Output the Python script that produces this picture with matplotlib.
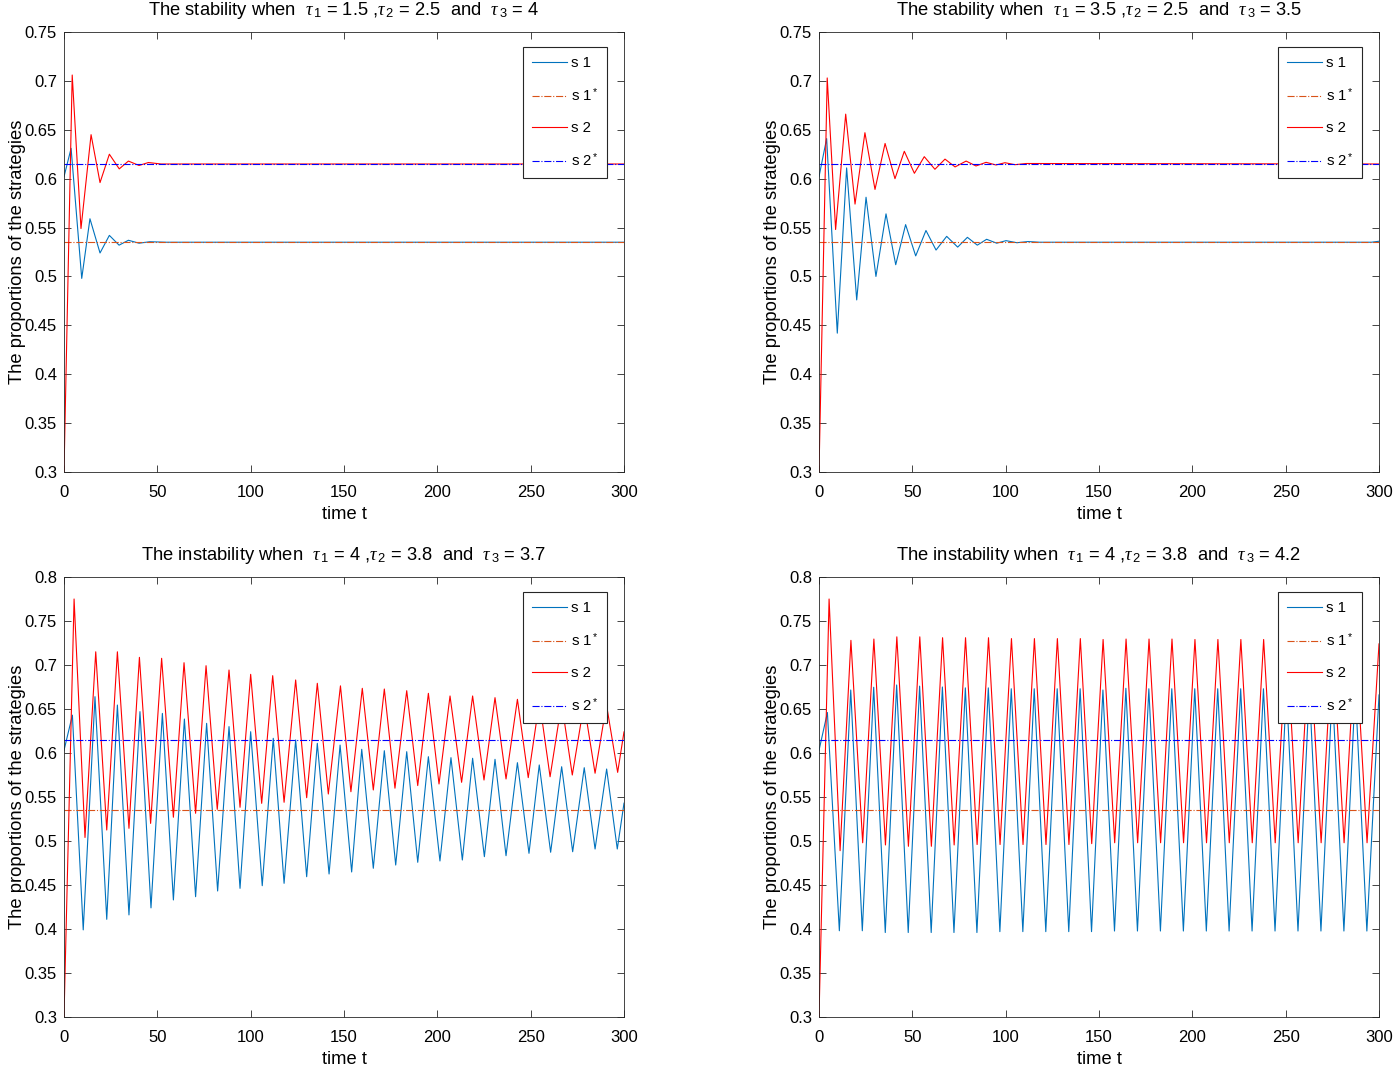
import matplotlib
matplotlib.use("Agg")
import matplotlib.pyplot as plt
from matplotlib.ticker import FormatStrFormatter

plt.rcParams['font.family'] = ['Liberation Sans', 'DejaVu Sans']
plt.rcParams['mathtext.fontset'] = 'custom'
plt.rcParams['mathtext.rm'] = 'Liberation Sans'
plt.rcParams['mathtext.it'] = 'Liberation Serif:italic'
plt.rcParams['mathtext.bf'] = 'Liberation Sans:bold'

# equilibrium values
s1_star = 0.535
s2_star = 0.615

# panel a: tau1=1.5, tau2=2.5, tau3=4
t_a_s1 = [0, 3.8, 9.5, 13.9, 19.3, 24.3, 29.5, 34.5, 40.2, 46, 55, 300]
y_a_s1 = [0.602, 0.631, 0.498, 0.559, 0.524, 0.542, 0.532, 0.537, 0.534, 0.5355, 0.535, 0.535]
t_a_s2 = [0, 4.4, 9.1, 14.5, 19.3, 24.3, 29.6, 34.5, 40.2, 45.2, 52, 300]
y_a_s2 = [0.30, 0.706, 0.549, 0.645, 0.596, 0.625, 0.610, 0.618, 0.6135, 0.6165, 0.615, 0.615]

# panel b: tau1=3.5, tau2=2.5, tau3=3.5
t_b_s1 = [0, 4.1, 9.8, 14.8, 20.2, 25.2, 30.5, 35.9, 41.1, 46.4, 51.8, 57.3, 62.7, 68.4,
          74.3, 79.5, 84.8, 89.8, 95.2, 100.2, 106, 112, 118, 296, 300]
y_b_s1 = [0.602, 0.641, 0.442, 0.611, 0.476, 0.581, 0.500, 0.564, 0.512, 0.553, 0.521, 0.547,
          0.527, 0.541, 0.530, 0.540, 0.532, 0.538, 0.534, 0.5366, 0.5345, 0.5357, 0.535, 0.535,
          0.536]
t_b_s2 = [0, 4.4, 8.9, 14.3, 19.3, 24.6, 30, 35.4, 40.7, 45.7, 51.1, 56.4, 62.1, 67.5,
          72.9, 78.8, 84.1, 89.5, 94.8, 99.6, 105, 111, 300]
y_b_s2 = [0.30, 0.703, 0.548, 0.666, 0.574, 0.647, 0.589, 0.636, 0.600, 0.628, 0.6055, 0.6225,
          0.6096, 0.620, 0.612, 0.618, 0.613, 0.6167, 0.614, 0.6163, 0.6143, 0.6155, 0.615]

# panel c: tau1=4, tau2=3.8, tau3=3.7
t_c_s1 = [0, 4.5, 10.3, 16.6, 22.9, 28.6, 34.8, 40.7, 46.6, 52.7, 58.6, 64.5, 70.5, 76.4,
          82.3, 88.4, 94.3, 100, 106.2, 112.1, 117.9, 124.1, 130, 135.7, 142, 147.9, 154.1,
          159.5, 165.7, 171.6, 177.7, 183.6, 189.5, 195.2, 201.4, 207.3, 213.4, 218.9, 225.2,
          230.9, 236.8, 242.9, 249.1, 254.6, 260.7, 266.6, 272.5, 278.7, 284.5, 290.7, 296.4, 300]
y_c_s1 = [0.603, 0.643, 0.399, 0.664, 0.411, 0.6545, 0.416, 0.647, 0.424, 0.645, 0.433, 0.6386,
          0.4367, 0.6337, 0.4432, 0.630, 0.4462, 0.6242, 0.4492, 0.6167, 0.4519, 0.6148, 0.4594,
          0.611, 0.4625, 0.609, 0.4648, 0.6042, 0.469, 0.6026, 0.4727, 0.6015, 0.4758, 0.5958,
          0.4773, 0.5947, 0.4784, 0.594, 0.4822, 0.5928, 0.4833, 0.589, 0.486, 0.5864, 0.4872,
          0.5844, 0.4878, 0.5833, 0.4909, 0.5818, 0.4909, 0.543]
t_c_s2 = [0, 5.4, 11.25, 17.0, 22.9, 28.6, 34.8, 40.4, 46.4, 52.3, 58.6, 64.3, 70.5, 76.1,
          82.1, 88.4, 94.3, 100, 105.9, 111.8, 117.9, 124.1, 130, 135.7, 141.6, 148.1, 153.7,
          159.8, 165.7, 171.6, 177.3, 183.6, 189.5, 195.2, 200.9, 206.8, 213, 218.9, 225,
          230.9, 236.8, 242.9, 248.7, 254.7, 260.4, 266.6, 272.3, 278.6, 284.5, 290.6, 296.6, 300]
y_c_s2 = [0.30, 0.775, 0.504, 0.715, 0.5125, 0.715, 0.5144, 0.7087, 0.520, 0.7076, 0.527, 0.7026,
          0.5315, 0.6992, 0.536, 0.6943, 0.5383, 0.6894, 0.5428, 0.6879, 0.544, 0.683, 0.5492,
          0.6792, 0.5534, 0.6763, 0.556, 0.6735, 0.558, 0.6727, 0.560, 0.6708, 0.563, 0.6678,
          0.5648, 0.6648, 0.5667, 0.6648, 0.5693, 0.6629, 0.5705, 0.661, 0.572, 0.659, 0.573,
          0.657, 0.575, 0.656, 0.577, 0.655, 0.578, 0.624]

# panel d: tau1=4, tau2=3.8, tau3=4.2
t_d_s1 = [0, 4.5, 10.9, 17.0, 23.2, 29.3, 35.5, 41.6, 47.8, 53.9, 60.1, 66.1, 72.3, 78.4,
          84.6, 90.7, 96.9, 103.0, 109.2, 115.3, 121.5, 127.6, 133.8, 139.9, 146.0, 152.1,
          158.3, 164.4, 170.6, 176.7, 182.9, 189.0, 195.2, 201.3, 207.5, 213.6, 219.7, 225.9,
          232.0, 238.1, 244.3, 250.4, 256.6, 262.7, 268.9, 275.0, 281.2, 287.3, 293.5, 300]
y_d_s1 = [0.603, 0.646, 0.398, 0.6716, 0.398, 0.6747, 0.396, 0.6773, 0.396, 0.676, 0.396, 0.675,
          0.396, 0.674, 0.396, 0.674, 0.397, 0.673, 0.397, 0.673, 0.397, 0.673, 0.397, 0.673,
          0.397, 0.6716, 0.3977, 0.6735, 0.3977, 0.673, 0.3977, 0.673, 0.3977, 0.673, 0.3977,
          0.673, 0.3977, 0.673, 0.3977, 0.673, 0.3977, 0.673, 0.3977, 0.673, 0.3977, 0.673,
          0.3977, 0.673, 0.3977, 0.666]
t_d_s2 = [0, 5.4, 11.3, 17.1, 23.4, 29.4, 35.6, 41.7, 47.9, 54.0, 60.2, 66.2, 72.4, 78.5,
          84.7, 90.8, 97.0, 103.1, 109.3, 115.4, 121.6, 127.7, 133.9, 140.0, 146.1, 152.2,
          158.4, 164.5, 170.7, 176.8, 183.0, 189.1, 195.3, 201.4, 207.6, 213.7, 219.8, 226.0,
          232.1, 238.2, 244.4, 250.5, 256.7, 262.8, 269.0, 275.1, 281.3, 287.4, 293.6, 300]
y_d_s2 = [0.30, 0.775, 0.489, 0.728, 0.498, 0.7295, 0.4955, 0.732, 0.494, 0.732, 0.494, 0.731,
          0.4955, 0.731, 0.496, 0.731, 0.496, 0.730, 0.496, 0.730, 0.496, 0.730, 0.496, 0.730,
          0.497, 0.729, 0.498, 0.7295, 0.498, 0.7295, 0.498, 0.7295, 0.498, 0.729, 0.498,
          0.729, 0.498, 0.729, 0.498, 0.729, 0.498, 0.729, 0.498, 0.729, 0.498, 0.729, 0.498,
          0.729, 0.498, 0.724]

titles = [
    r'The stability when  $\tau_{\,\mathrm{1}}$ = 1.5 ,$\tau_{\,\mathrm{2}}$ = 2.5  and  $\tau_{\,\mathrm{3}}$ = 4',
    r'The stability when  $\tau_{\,\mathrm{1}}$ = 3.5 ,$\tau_{\,\mathrm{2}}$ = 2.5  and  $\tau_{\,\mathrm{3}}$ = 3.5',
    r'The instability when  $\tau_{\,\mathrm{1}}$ = 4 ,$\tau_{\,\mathrm{2}}$ = 3.8  and  $\tau_{\,\mathrm{3}}$ = 3.7',
    r'The instability when  $\tau_{\,\mathrm{1}}$ = 4 ,$\tau_{\,\mathrm{2}}$ = 3.8  and  $\tau_{\,\mathrm{3}}$ = 4.2',
]
y_tops = [0.75, 0.75, 0.8, 0.8]
legend_labels = ['s 1', r's 1$^*$', 's 2', r's 2$^*$']

panels = [
    (t_a_s1, y_a_s1, t_a_s2, y_a_s2),
    (t_b_s1, y_b_s1, t_b_s2, y_b_s2),
    (t_c_s1, y_c_s1, t_c_s2, y_c_s2),
    (t_d_s1, y_d_s1, t_d_s2, y_d_s2),
]

W, H = 1393, 1068
fig = plt.figure(figsize=(W / 100, H / 100), dpi=100)

# axes boxes in pixels: left, top
boxes = [(64, 32), (819, 32), (64, 577), (819, 577)]
ax_w, ax_h = 560, 440
axc = '#262626'

for i, (t1, y1, t2, y2) in enumerate(panels):
    left, top = boxes[i]
    ax = fig.add_axes([left / W, 1 - (top + ax_h) / H, ax_w / W, ax_h / H])
    ax.plot(t1, y1, color='#0072BD', lw=0.8, label=legend_labels[0])
    ax.plot([0, 300], [s1_star, s1_star], color='#D95319', lw=0.8, ls='-.', label=legend_labels[1])
    ax.plot(t2, y2, color='#FF0000', lw=0.8, label=legend_labels[2])
    ax.plot([0, 300], [s2_star, s2_star], color='#0000FF', lw=0.8, ls='-.', label=legend_labels[3])

    ax.set_xlim(0, 300)
    ax.set_ylim(0.3, y_tops[i])
    ax.set_xticks(range(0, 301, 50))
    n = int(round((y_tops[i] - 0.3) / 0.05))
    ax.set_yticks([0.3 + 0.05 * k for k in range(n + 1)])
    ax.yaxis.set_major_formatter(FormatStrFormatter('%g'))
    ax.tick_params(direction='in', top=True, right=True, length=5, width=0.6,
                   labelsize=12, colors=axc, labelcolor='black')
    ax.tick_params(axis='y', pad=5)
    ax.tick_params(axis='x', pad=9.5)
    for sp in ax.spines.values():
        sp.set_color(axc)
        sp.set_linewidth(0.6)

    ax.set_xlabel('time t', fontsize=13.2, labelpad=4.5)
    ax.set_ylabel('The proportions of the strategies', fontsize=13.2, labelpad=-1)
    ax.set_title(titles[i], fontsize=13.2, pad=12.5)

    leg = ax.legend(loc='upper right', bbox_to_anchor=(0.97, 0.966), borderaxespad=0,
                    fontsize=10.8, handlelength=2.3, labelspacing=1.1, fancybox=False,
                    framealpha=1, edgecolor=axc, borderpad=0.6, handletextpad=0.25)
    leg.get_frame().set_linewidth(0.8)

fig.savefig('out.png', dpi=100)
